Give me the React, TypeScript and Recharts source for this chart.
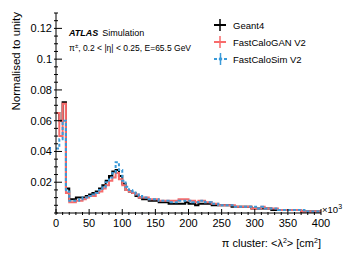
import React from 'react';
import { ComposedChart, Line, XAxis, YAxis } from 'recharts';

// bin lower edges, x in units of 10^3
const binStarts = [
  0, 5, 10, 15, 20, 25, 30, 35, 40, 45, 50, 55, 60, 65, 70, 75, 80, 85, 90, 95,
  100, 105, 110, 115, 120, 125, 130, 135, 140, 145, 150, 155, 160, 165, 170, 175, 180, 185, 190, 195,
  200, 205, 210, 215, 220, 225, 230, 235, 240, 245, 250, 255, 260, 265, 270, 275, 280, 285, 290, 295,
  300, 305, 310, 315, 320, 325, 330, 335, 340, 345, 350, 355, 360, 365, 370, 375, 380, 385, 390, 395,
];
const xEnd = 400;

const geant4 = [
  0.065, 0.06, 0.072, 0.016, 0.009, 0.009, 0.01, 0.01, 0.01, 0.011, 0.012, 0.013, 0.014, 0.016, 0.018, 0.021, 0.024, 0.027, 0.028, 0.024,
  0.019, 0.015, 0.014, 0.013, 0.011, 0.01, 0.009, 0.009, 0.008, 0.008, 0.008, 0.007, 0.007, 0.007, 0.006, 0.006, 0.006, 0.006, 0.006, 0.007,
  0.006, 0.006, 0.005, 0.006, 0.006, 0.006, 0.006, 0.005, 0.005, 0.005, 0.005, 0.005, 0.005, 0.004, 0.004, 0.004, 0.004, 0.004, 0.004, 0.003,
  0.003, 0.003, 0.003, 0.003, 0.003, 0.002, 0.002, 0.002, 0.002, 0.002, 0.002, 0.002, 0.002, 0.002, 0.001, 0.001, 0.001, 0.001, 0.001, 0.001,
];
const fastCaloGAN = [
  0.065, 0.05, 0.071, 0.013, 0.007, 0.007, 0.008, 0.008, 0.009, 0.01, 0.011, 0.011, 0.013, 0.014, 0.016, 0.018, 0.021, 0.023, 0.026, 0.022,
  0.018, 0.015, 0.014, 0.013, 0.012, 0.01, 0.01, 0.01, 0.009, 0.009, 0.009, 0.008, 0.008, 0.008, 0.008, 0.008, 0.008, 0.009, 0.009, 0.009,
  0.008, 0.008, 0.007, 0.008, 0.008, 0.007, 0.007, 0.006, 0.006, 0.005, 0.005, 0.005, 0.005, 0.005, 0.004, 0.004, 0.004, 0.004, 0.004, 0.003,
  0.003, 0.003, 0.004, 0.003, 0.003, 0.003, 0.003, 0.002, 0.002, 0.002, 0.002, 0.002, 0.002, 0.002, 0.001, 0.001, 0.001, 0.001, 0.001, 0.001,
];
const fastCaloSim = [
  0.042, 0.048, 0.06, 0.014, 0.008, 0.008, 0.008, 0.009, 0.01, 0.01, 0.011, 0.012, 0.013, 0.015, 0.017, 0.02, 0.023, 0.026, 0.033, 0.028,
  0.021, 0.017, 0.015, 0.014, 0.012, 0.011, 0.01, 0.01, 0.009, 0.009, 0.009, 0.008, 0.008, 0.008, 0.007, 0.007, 0.007, 0.008, 0.008, 0.008,
  0.008, 0.007, 0.007, 0.008, 0.008, 0.007, 0.007, 0.006, 0.006, 0.005, 0.005, 0.005, 0.005, 0.005, 0.004, 0.004, 0.004, 0.004, 0.004, 0.004,
  0.004, 0.003, 0.004, 0.003, 0.003, 0.003, 0.003, 0.002, 0.002, 0.002, 0.002, 0.002, 0.002, 0.002, 0.002, 0.001, 0.001, 0.001, 0.001, 0.001,
];

const xMajor = [0, 50, 100, 150, 200, 250, 300, 350, 400];
const yMajor = [0.02, 0.04, 0.06, 0.08, 0.1, 0.12];

const xTicks = Array.from({ length: 41 }, (_, i) => i * 10);
const yTicks = Array.from({ length: 27 }, (_, i) => +(i * 0.005).toFixed(3));

// step histogram table: one point per bin edge, last edge repeats last value
const data = [
  ...binStarts.map((x, i) => ({ x, g: geant4[i], r: fastCaloGAN[i], b: fastCaloSim[i] })),
  { x: xEnd, g: geant4[geant4.length - 1], r: fastCaloGAN[fastCaloGAN.length - 1], b: fastCaloSim[fastCaloSim.length - 1] },
];

const FONT = '"Liberation Sans", Arial, sans-serif';
const RED = '#f86b6b';
const BLUE = '#3a9ad9';

const isMajorY = (v: number) => yMajor.some((m) => Math.abs(m - v) < 1e-6);
const isMajorX = (v: number) => xMajor.includes(v);

const LeftTick = (props: any) => {
  const { x, y, payload } = props;
  const v = payload.value;
  const major = isMajorY(v);
  return (
    <g>
      <line x1={x} x2={x + (major ? 8 : 4)} y1={y} y2={y} stroke="#000" />
      {major && (
        <text x={x - 2} y={y} textAnchor="end" dominantBaseline="central" fontSize={11} fontFamily={FONT} fill="#000">
          {String(+v.toFixed(3))}
        </text>
      )}
    </g>
  );
};

const RightTick = (props: any) => {
  const { x, y, payload } = props;
  const major = isMajorY(payload.value);
  return <line x1={x} x2={x - (major ? 8 : 4)} y1={y} y2={y} stroke="#000" />;
};

const BottomTick = (props: any) => {
  const { x, y, payload } = props;
  const v = payload.value;
  const major = isMajorX(v);
  return (
    <g>
      <line x1={x} x2={x} y1={y} y2={y - (major ? 6 : 3)} stroke="#000" />
      {major && (
        <text x={x} y={y + 12} textAnchor="middle" fontSize={11} fontFamily={FONT} fill="#000">
          {v}
        </text>
      )}
    </g>
  );
};

const TopTick = (props: any) => {
  const { x, y, payload } = props;
  const major = isMajorX(payload.value);
  return <line x1={x} x2={x} y1={y} y2={y + (major ? 6 : 3)} stroke="#000" />;
};

export default function App() {
  return (
    <div style={{ position: 'absolute', left: 0, top: 0, width: 349, height: 254, background: '#fff' }}>
      <ComposedChart width={349} height={254} data={data} margin={{ top: 13, right: 28, bottom: 16, left: 0 }}>
        <XAxis
          dataKey="x"
          type="number"
          domain={[0, 400]}
          ticks={xTicks}
          interval={0}
          tickSize={0}
          tickLine={false}
          tick={<BottomTick />}
          axisLine={{ stroke: '#000' }}
          height={25}
          allowDataOverflow
        />
        <XAxis
          xAxisId="top"
          orientation="top"
          dataKey="x"
          type="number"
          domain={[0, 400]}
          ticks={xTicks}
          interval={0}
          tickSize={0}
          tickLine={false}
          tick={<TopTick />}
          axisLine={{ stroke: '#000' }}
          height={0}
          allowDataOverflow
        />
        <YAxis
          type="number"
          domain={[0, 0.13]}
          ticks={yTicks}
          interval={0}
          tickSize={0}
          tickLine={false}
          tick={<LeftTick />}
          axisLine={{ stroke: '#000' }}
          width={56}
          allowDataOverflow
        />
        <YAxis
          yAxisId="right"
          orientation="right"
          type="number"
          domain={[0, 0.13]}
          ticks={yTicks}
          interval={0}
          tickSize={0}
          tickLine={false}
          tick={<RightTick />}
          axisLine={{ stroke: '#000' }}
          width={0}
          allowDataOverflow
        />
        <Line type="stepAfter" dataKey="g" stroke="#000" strokeWidth={2} dot={false} isAnimationActive={false} />
        <Line type="stepAfter" dataKey="r" stroke={RED} strokeWidth={2} dot={false} isAnimationActive={false} />
        <Line
          type="stepAfter"
          dataKey="b"
          stroke={BLUE}
          strokeWidth={2}
          strokeDasharray="3 2"
          dot={false}
          isAnimationActive={false}
        />
      </ComposedChart>
      <svg width={349} height={254} style={{ position: 'absolute', left: 0, top: 0, pointerEvents: 'none' }}>
        <text
          transform="translate(16,12) rotate(-90)"
          textAnchor="end"
          dominantBaseline="central"
          fontSize={11.5}
          fontFamily={FONT}
        >
          Normalised to unity
        </text>
        <text x={321} y={247} textAnchor="end" fontSize={11} fontFamily={FONT}>
          π cluster: &lt;λ<tspan fontSize={7} dy={-4}>2</tspan>
          <tspan dy={4}>&gt; [cm</tspan>
          <tspan fontSize={7} dy={-4}>2</tspan>
          <tspan dy={4}>]</tspan>
        </text>
        <text x={322} y={213} fontSize={9.5} fontFamily={FONT}>
          ×10<tspan fontSize={7} dy={-4}>3</tspan>
        </text>
        <text x={69} y={36} fontSize={9} fontFamily={FONT}>
          <tspan fontWeight="bold" fontStyle="italic">ATLAS</tspan>
          <tspan dx={4}>Simulation</tspan>
        </text>
        <text x={69} y={51} fontSize={8.5} fontFamily={FONT}>
          π<tspan fontSize={6} dy={-3}>±</tspan>
          <tspan dy={3}>, 0.2 &lt; |η| &lt; 0.25, E=65.5 GeV</tspan>
        </text>
        {/* legend */}
        <g>
          <line x1={214} x2={226} y1={25} y2={25} stroke="#000" strokeWidth={2} />
          <line x1={220} x2={220} y1={19} y2={31} stroke="#000" strokeWidth={1.5} />
          <text x={233} y={28.5} fontSize={9.5} fontFamily={FONT}>Geant4</text>
          <line x1={214} x2={226} y1={42} y2={42} stroke={RED} strokeWidth={2} />
          <line x1={220} x2={220} y1={36} y2={48} stroke={RED} strokeWidth={1.5} />
          <text x={233} y={45.5} fontSize={9.5} fontFamily={FONT}>FastCaloGAN V2</text>
          <line x1={214} x2={227} y1={59} y2={59} stroke={BLUE} strokeWidth={2} strokeDasharray="3 2" />
          <line x1={220.5} x2={220.5} y1={53} y2={65} stroke={BLUE} strokeWidth={1.5} />
          <circle cx={220.5} cy={59} r={1.8} fill={BLUE} />
          <text x={233} y={62.5} fontSize={9.5} fontFamily={FONT}>FastCaloSim V2</text>
        </g>
      </svg>
    </div>
  );
}
